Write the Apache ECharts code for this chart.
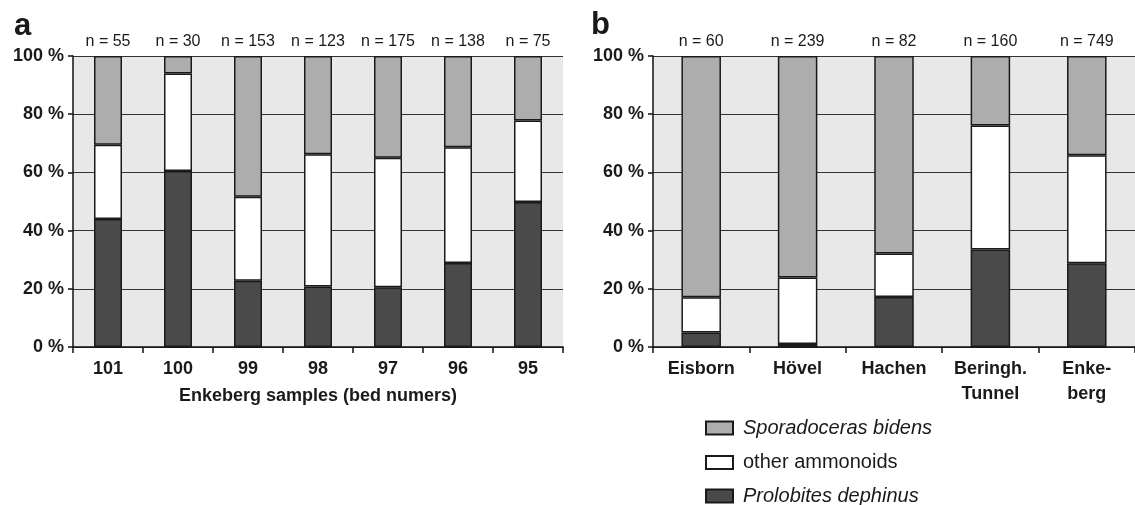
<!DOCTYPE html>
<html>
<head>
<meta charset="utf-8">
<script src="https://cdn.jsdelivr.net/npm/echarts@6/dist/echarts.min.js"></script>
<style>
html,body{margin:0;padding:0;background:#fff;}
#chart{width:1135px;height:505px;}
</style>
</head>
<body>
<div id="chart"></div>
<script>
// Panel a: Enkeberg samples (bed numbers)
const catsA = ['101', '100', '99', '98', '97', '96', '95'];
const nA = [55, 30, 153, 123, 175, 138, 75];
const prolobitesA = [44, 60.5, 22.8, 20.8, 20.5, 28.9, 49.8];
const otherA = [25.5, 33.5, 28.8, 45.4, 44.5, 39.7, 28];
const sporadocerasA = [30.5, 6, 48.4, 33.8, 35, 31.4, 22.2];

// Panel b: localities
const catsB = ['Eisborn', 'Hövel', 'Hachen', 'Beringh.\nTunnel', 'Enke-\nberg'];
const nB = [60, 239, 82, 160, 749];
const prolobitesB = [5, 1, 17.2, 33.5, 28.8];
const otherB = [12.1, 22.9, 14.9, 42.6, 37.1];
const sporadocerasB = [82.9, 76.1, 67.9, 23.9, 34.1];

const yTicks = [0, 20, 40, 60, 80, 100];

const NAME_SPOR = 'Sporadoceras bidens';
const NAME_OTHER = 'other ammonoids';
const NAME_PRO = 'Prolobites dephinus';
const legendOrder = [NAME_SPOR, NAME_OTHER, NAME_PRO];

const FONT = '"Liberation Sans", Arial, Helvetica, sans-serif';
const TXT = '#1a1a1a';

const chart = echarts.init(document.getElementById('chart'), null, {renderer: 'canvas'});

function yAxis(gridIndex) {
  return {
    type: 'value', gridIndex: gridIndex, min: yTicks[0], max: yTicks[yTicks.length - 1], interval: 20,
    axisLine: {show: true, lineStyle: {color: '#111', width: 1.5}},
    axisTick: {show: true, length: 5, lineStyle: {color: '#111', width: 1.5}},
    axisLabel: {formatter: '{value} %', fontFamily: FONT, fontWeight: 'bold', fontSize: 18, color: TXT, margin: 9},
    splitLine: {show: true, lineStyle: {color: '#333', width: 1}}
  };
}
function xAxis(gridIndex, cats, extra) {
  return Object.assign({
    type: 'category', gridIndex: gridIndex, data: cats,
    axisLine: {show: true, lineStyle: {color: '#111', width: 1.5}},
    axisTick: {show: true, length: 6, lineStyle: {color: '#111', width: 1.5}},
    axisLabel: {fontFamily: FONT, fontWeight: 'bold', fontSize: 18, color: TXT, margin: 10, lineHeight: 25, interval: 0}
  }, extra || {});
}
const border = {borderColor: '#1a1a1a', borderWidth: 1.5};
function bars(name, data, color, xi, nArr) {
  const s = {
    name: name, type: 'bar', stack: 'p' + xi, xAxisIndex: xi, yAxisIndex: xi,
    data: data, barWidth: xi === 0 ? '40%' : '41%',
    itemStyle: Object.assign({color: color}, border),
    emphasis: {disabled: true}
  };
  if (nArr) {
    s.label = {
      show: true, position: 'top', distance: 6,
      formatter: p => 'n = ' + nArr[p.dataIndex],
      fontFamily: FONT, fontSize: 16, color: TXT
    };
  }
  return s;
}
const legendTops = [418, 452.5, 486];
const legends = legendOrder.map((nm, i) => ({
  orient: 'vertical', left: 705, top: legendTops[i], padding: 0,
  data: [nm],
  itemWidth: 27, itemHeight: 13,
  selectedMode: false,
  icon: 'rect',
  formatter: name => name === NAME_OTHER ? name : '{it|' + name + '}',
  textStyle: {fontFamily: FONT, fontSize: 20, color: TXT, padding: [0, 0, 0, 5],
    rich: {it: {fontFamily: FONT, fontSize: 20, fontStyle: 'italic', color: TXT}}}
}));

chart.setOption({
  animation: false,
  backgroundColor: '#ffffff',
  title: [
    {text: 'a', left: 14, top: 11, padding: 0, textStyle: {fontFamily: FONT, fontWeight: 'bold', fontSize: 31, color: TXT}},
    {text: 'b', left: 591, top: 10, padding: 0, textStyle: {fontFamily: FONT, fontWeight: 'bold', fontSize: 31, color: TXT}}
  ],
  grid: [
    {left: 73, width: 490, top: 56, height: 291, show: true, backgroundColor: '#e8e8e8', borderWidth: 0, containLabel: false},
    {left: 653, width: 488, top: 56, height: 291, show: true, backgroundColor: '#e8e8e8', borderWidth: 0, containLabel: false}
  ],
  xAxis: [
    xAxis(0, catsA, {name: 'Enkeberg samples (bed numers)', nameLocation: 'middle', nameGap: 35,
      nameTextStyle: {fontFamily: FONT, fontWeight: 'bold', fontSize: 18, color: TXT}}),
    xAxis(1, catsB)
  ],
  yAxis: [yAxis(0), yAxis(1)],
  legend: legends,
  series: [
    bars(NAME_PRO, prolobitesA, '#4a4a4a', 0),
    bars(NAME_OTHER, otherA, '#ffffff', 0),
    bars(NAME_SPOR, sporadocerasA, '#adadad', 0, nA),
    bars(NAME_PRO, prolobitesB, '#4a4a4a', 1),
    bars(NAME_OTHER, otherB, '#ffffff', 1),
    bars(NAME_SPOR, sporadocerasB, '#adadad', 1, nB)
  ]
});
</script>
</body>
</html>
